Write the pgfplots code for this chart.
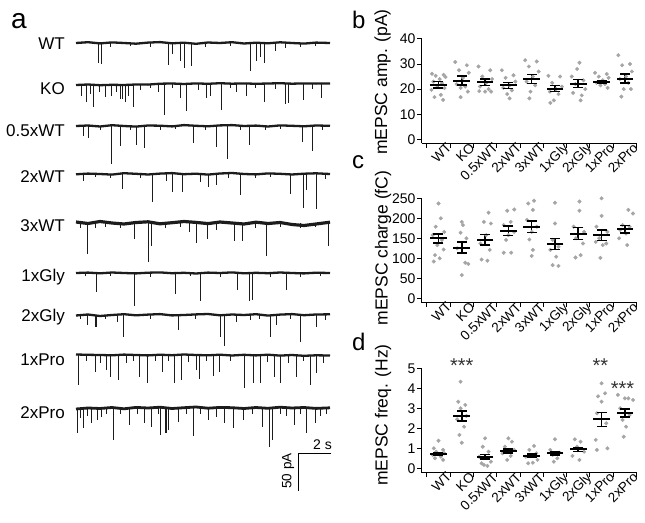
\documentclass[border=0pt]{standalone}
\usepackage{pgfplots}
\pgfplotsset{compat=1.18}
\usepackage{pgfplotstable}
\usepackage{fontspec}
\setmainfont{Liberation Sans}
\definecolor{dotgray}{RGB}{165,165,165}
\definecolor{tracecol}{RGB}{28,28,28}

% baseline wander of each trace (px, + is up)
\pgfplotstableread{
x   wt   ko   half twx  thx  glya glyb proa prob
76  0    -1   0    -0.3 1    0    -0.5 0.5  -1
88  0.8  -0.5 0.5  0.4  -0.5 0.4  0.5  0.2  0
100 -0.4 -1.2 -0.5 0    1.5  -0.3 -1   0    -0.5
112 0.6  -0.8 0.8  -0.6 0    0.5  0    -0.3 0.5
124 0    -1   0    0.8  -1   0    0.8  0.4  -0.8
136 -0.7 -0.5 -0.6 0.2  0.5  -0.4 -0.3 0    0.6
148 0.4  -0.6 0.5  -0.5 1.2  0.3  0.4  -0.4 0
160 0.9  0.3  0.3  0.4  -0.8 0.6  0.9  0.3  0.8
172 -0.3 0.5  -0.4 0.9  0.3  -0.2 -0.4 -0.2 -0.5
184 0.3  0    0.9  -0.2 1.5  0.2  0    0.5  0.3
196 -0.8 0.6  0.2  0.3  0.6  -0.5 0.6  0    1
208 0.5  0.2  -0.3 -0.6 -0.6 0.4  1    -0.3 -0.2
220 0    0.8  0.6  0.5  1    0    -0.3 0.3  0.6
232 0.8  0.3  0.9  1    0    0.6  0.5  -0.5 0.3
244 -0.5 0.6  0    0    -1   -0.3 0    0.2  -0.5
256 0.3  0.2  0.4  -0.4 0.8  0.2  0.8  -0.4 0.5
268 -0.3 0.5  -0.5 0.6  -0.5 -0.2 -0.6 0.3  -0.3
280 0.7  0.8  0.6  0.2  0.5  0.5  0.4  -0.6 0.8
292 0    0.3  0.2  -0.5 -1.5 0    0.9  0    0
304 -0.6 0.6  -0.3 0.3  -2.5 -0.4 -0.2 -0.8 0.5
316 0.4  0.4  0.5  0.7  -1   0.3  0.5  -0.3 -0.4
330 0    0.5  0.2  0    0.8  0    0.7  -0.5 0.2
}\wig

% spikes: x position (px), depth (px)
\pgfplotstableread{
x d
98.5 20
101.5 21
110 4
130 3
150 4
168.5 22
172 11
180 18
184 25
191.5 23
205 4
230 3
250 28
256.5 18
260.5 14
264 20
275 8
285 5
300 4
315 3
}\spWT
\pgfplotstableread{
x d
81.7 11.5
86 18
90 10
93.3 23
99.3 8
105 12.5
111.7 11.5
116.7 8
120 15
122.7 15
125 18
128.3 11.5
133.3 23
140 6
150 4
158.3 8
164.3 31
172 4
180 13.5
186 26.5
198.3 6
206.7 13.5
210 11.5
221 26
230 4
236.7 8
246 11.5
255 4
264 18
275 5
285 20
288.3 19
303.3 16
312 5
321.7 13.5
}\spKO
\pgfplotstableread{
x d
83 10
88.3 12
100 4
111.7 38
120 20
130 4
136 19
144 22
160 4
175 3
193.5 17
205 4
216 21
227.7 33
240 4
249.5 19
265 4
280 3
302 16
312.7 25
322 4
}\spHalf
\pgfplotstableread{
x d
83.3 7
95 3
110 4
122.7 15
140 4
152.7 28
166.7 7
172.7 18
182.7 18
200.7 8
208.3 13
216.7 11
228 4
240 21
255 4
270 3
290.7 20
303.3 34
306 16
316.7 35
325 5
}\spTwo
\pgfplotstableread{
x d
80 5
87.3 31
95 5
105 4
120 5
134.3 16
148.3 39
151.7 23
165 5
180 4
189.3 9
196 20
207.7 16
216.7 7
234 18
242.7 18
255 5
266.7 33
280 4
300 5
315 4
328.3 23
}\spThree
\pgfplotstableread{
x d
85 3
96.7 19
110 3
134 33
150 4
175 21
190 3
200.7 28
220 4
237.3 17
249 28
252.3 27
270 4
286 17
300 4
320 3
}\spGa
\pgfplotstableread{
x d
80 4
87.3 10
95 12
96.7 12
105 4
117.3 7
123.3 22
150 4
178.3 15
195 4
220.7 22
224 31
236.7 7
250 5
259 4
270 22
276.7 10
290 4
300.7 27
316 12
325 5
}\spGb
\pgfplotstableread{
x d
78.3 30
86 6
95 17
100 8
106 15
110 22
118.3 25
126.7 8
133 6
139.3 22
147.3 28
155 6
162.7 17
168 6
174 28
181 25
188 7
196.7 15
199 24
206 6
213.3 21
219.3 17
230 6
244 33
253.3 28
260.7 28
267 7
274.7 22
280 28
288 8
296.7 22
303 6
310.7 30
316 18
323 8
}\spPa
\pgfplotstableread{
x d
77.3 25
80 10
83.3 20
87 8
91.7 15
97.3 12
101.7 9
106 6
113.3 32
120 6
129.3 17
137 6
144 15
151 19
158 6
160 27
165 25
166.7 25
168.3 22
178.3 14
186 6
193.3 28
200 6
208.3 12
216.7 9
224 15
233.3 20
243.3 12
252 6
262.3 19
269.3 39
272.7 32
280 6
286 8
294 17
300 6
306.7 25
315 15
320 8
326 6
}\spPb

% panel b: category, jitter, value
\pgfplotstableread{
c j y
0 -0.28 26.1
0 0.22 25.7
0 -0.12 25.3
0 0.30 24.8
0 0.05 24.0
0 -0.22 23.0
0 0.15 22.4
0 -0.05 21.3
0 0.26 20.4
0 -0.30 19.7
0 0.10 17.7
0 -0.17 16.8
0 0.20 15.7
1 -0.28 30.8
1 0.22 29.5
1 -0.12 27.5
1 0.30 26.5
1 0.05 24.5
1 -0.22 22.0
1 0.15 21.0
1 -0.05 20.5
1 0.26 19.0
1 -0.05 16.8
2 -0.28 29.0
2 0.22 27.5
2 -0.12 25.0
2 0.30 24.0
2 0.05 22.5
2 -0.22 21.0
2 0.15 20.0
2 -0.25 19.2
2 0.26 19.0
2 0.00 19.0
3 -0.28 27.5
3 0.22 25.5
3 -0.12 24.5
3 0.30 23.0
3 0.05 21.5
3 -0.22 20.5
3 0.15 19.5
3 -0.05 18.0
3 0.05 16.3
4 -0.28 31.5
4 0.22 31.0
4 -0.12 29.0
4 0.30 27.0
4 0.05 25.0
4 -0.22 23.0
4 0.15 21.5
4 -0.05 19.0
4 -0.10 16.3
5 -0.28 25.3
5 0.22 25.0
5 -0.12 22.5
5 0.30 21.0
5 0.05 20.0
5 -0.22 19.0
5 0.15 18.0
5 -0.05 15.5
5 -0.20 14.5
6 -0.28 25.0
6 0.22 23.5
6 -0.12 22.0
6 0.30 20.0
6 0.05 30.5
6 -0.22 18.5
6 0.15 17.5
6 -0.05 28.0
6 0.10 15.5
7 -0.28 26.5
7 0.22 26.0
7 -0.12 25.0
7 0.30 24.5
7 0.05 23.5
7 -0.22 22.5
7 0.15 22.0
7 -0.05 21.5
7 0.26 20.5
8 -0.28 33.5
8 0.22 30.0
8 -0.12 29.5
8 0.30 27.0
8 0.05 25.0
8 -0.22 24.0
8 0.15 22.5
8 -0.05 20.0
8 0.26 20.0
8 -0.15 17.0
}\datB
\pgfplotstableread{
x y e
0 21.7 1.3
1 23.4 1.7
2 22.8 1.3
3 21.5 1.2
4 24.0 1.8
5 20.2 1.2
6 22.2 1.6
7 23.0 0.5
8 24.2 1.7
}\mB

\pgfplotstableread{
c j y
0 0.00 237
0 0.10 200
0 -0.12 179
0 0.25 166
0 -0.25 158
0 0.15 146
0 -0.05 133
0 0.22 122
0 -0.15 108
0 0.05 100
0 -0.20 92
1 0.00 191
1 0.05 183
1 -0.05 164
1 0.20 150
1 -0.20 125
1 0.15 89
1 0.28 86
1 0.00 58
2 0.15 214
2 -0.05 191
2 0.25 187
2 0.05 158
2 -0.20 137
2 0.20 121
2 -0.15 97
2 0.10 94
3 0.25 222
3 -0.05 219
3 0.10 191
3 -0.20 183
3 0.25 166
3 0.00 158
3 -0.10 146
3 -0.20 114
3 0.12 114
4 0.10 244
4 -0.15 237
4 0.05 221
4 -0.20 196
4 0.22 179
4 0.00 166
4 -0.10 147
4 0.05 121
4 0.00 106
5 0.00 239
5 0.00 187
5 -0.10 146
5 0.15 129
5 -0.20 121
5 0.05 104
5 -0.10 83
5 0.15 81
6 0.05 242
6 0.05 219
6 -0.20 179
6 0.25 166
6 -0.10 150
6 0.20 137
6 0.10 108
6 -0.12 102
7 0.00 250
7 0.00 206
7 -0.22 179
7 0.25 166
7 -0.10 150
7 -0.25 141
7 0.20 137
7 0.05 133
7 -0.05 101
8 0.15 221
8 0.35 212
8 -0.10 183
8 0.20 179
8 -0.20 171
8 0.05 162
8 -0.25 150
8 0.10 133
}\datC
\pgfplotstableread{
x y e
0 150 11
1 127 14
2 147 13
3 169 12
4 179 14
5 136 14
6 162 15
7 158 13
8 173 9
}\mC

\pgfplotstableread{
c j y
0 0.00 1.38
0 -0.20 1.00
0 0.20 0.92
0 -0.10 0.83
0 0.25 0.75
0 -0.25 0.67
0 0.10 0.58
0 -0.15 0.50
0 0.20 0.42
1 -0.05 4.33
1 -0.15 3.33
1 0.15 3.17
1 -0.05 3.00
1 0.20 2.62
1 -0.20 2.45
1 0.10 2.08
1 -0.10 1.67
1 0.00 1.28
2 0.00 1.50
2 -0.10 1.08
2 0.15 0.83
2 -0.25 0.58
2 0.25 0.33
2 -0.15 0.25
2 0.10 0.12
2 -0.05 0.17
3 0.00 1.50
3 0.15 1.33
3 -0.15 1.08
3 0.25 0.92
3 -0.25 0.75
3 0.10 0.62
3 -0.05 0.42
4 0.10 1.12
4 -0.10 0.92
4 0.20 0.75
4 -0.25 0.58
4 0.25 0.42
4 -0.15 0.25
4 0.05 0.28
5 0.00 1.45
5 -0.20 0.92
5 0.20 0.78
5 -0.10 0.67
5 0.10 0.50
5 -0.05 0.33
6 -0.15 1.45
6 0.10 1.33
6 -0.05 1.08
6 0.25 0.83
6 -0.25 0.62
6 0.05 0.42
7 0.00 4.25
7 0.15 3.75
7 -0.15 3.60
7 0.00 3.33
7 -0.20 2.75
7 0.20 2.25
7 -0.25 1.42
7 0.25 1.00
7 -0.20 0.92
8 -0.30 3.67
8 0.00 3.50
8 0.15 3.50
8 0.35 3.42
8 -0.20 3.00
8 0.20 2.67
8 -0.10 2.42
8 0.05 2.08
8 -0.05 1.58
}\datD
\pgfplotstableread{
x y e
0 0.72 0.07
1 2.62 0.25
2 0.58 0.12
3 0.87 0.10
4 0.63 0.08
5 0.75 0.08
6 0.95 0.10
7 2.45 0.35
8 2.78 0.20
}\mD

\pgfplotsset{
  dotp/.style={only marks, mark=*, mark size=1.8pt, color=dotgray, mark options={draw=none, fill=dotgray}},
  meanp/.style={only marks, black, mark=-, mark size=8.3pt, mark options={line width=2pt, black},
    error bars/.cd, y dir=both, y explicit, error bar style={line width=1.6pt, black},
    error mark=none},
  capp/.style={only marks, black, mark=-, mark size=5pt, mark options={line width=1.6pt, black}},
  panel/.style={scale only axis, width=215.3pt, height=104.4pt, xmin=-0.72, xmax=8.52,
    axis x line*=bottom, axis y line*=left, axis line style={line width=0.9pt, -},
    xtick={-0.5,0.5,1.5,2.5,3.5,4.5,5.5,6.5,7.5,8.5}, xticklabels={},
    tick align=outside, major tick length=4.5pt, tick style={line width=0.9pt, black},
    y tick label style={font=\fontsize{14}{14}\selectfont, inner sep=1.5pt},
    /pgf/number format/assume math mode=true, clip=false},
  spk/.style={quiver={u=0, v=-\thisrow{d}}, -, line width=0.75pt, color=tracecol, mark=none, forget plot},
  bline/.style={line width=2.3pt, color=tracecol, line join=round, mark=none, forget plot},
}
\tikzset{catlab/.style={rotate=45, anchor=north east, font=\fontsize{13.5}{13.5}\selectfont,
  inner sep=0pt, xshift=6pt, yshift=-4pt}}
\newcommand\catlabels[1]{%
  \node[catlab] at (axis cs:0,#1) {WT};
  \node[catlab] at (axis cs:1,#1) {KO};
  \node[catlab] at (axis cs:2,#1) {0.5xWT};
  \node[catlab] at (axis cs:3,#1) {2xWT};
  \node[catlab] at (axis cs:4,#1) {3xWT};
  \node[catlab] at (axis cs:5,#1) {1xGly};
  \node[catlab] at (axis cs:6,#1) {2xGly};
  \node[catlab] at (axis cs:7,#1) {1xPro};
  \node[catlab] at (axis cs:8,#1) {2xPro};
}
\newcommand\meanbars[1]{%
  \addplot[capp] table[x=x, y expr=\thisrow{y}+\thisrow{e}] {#1};
  \addplot[capp] table[x=x, y expr=\thisrow{y}-\thisrow{e}] {#1};
  \addplot[meanp] table[x=x, y=y, y error=e] {#1};
}

\begin{document}
\begin{tikzpicture}
\useasboundingbox (0pt,0pt) rectangle (645pt,-522pt);

% ---------- a: traces ----------
\begin{axis}[at={(0pt,-522pt)}, anchor=south west, scale only axis, width=645pt, height=522pt,
  xmin=0, xmax=645, ymin=-522, ymax=0, hide axis, clip=false, no markers]
\addplot[spk] table[x=x, y expr=-43,  y error=d] {\spWT};
\addplot[spk] table[x=x, y expr=-84] {\spKO};
\addplot[spk] table[x=x, y expr=-126] {\spHalf};
\addplot[spk] table[x=x, y expr=-174] {\spTwo};
\addplot[spk] table[x=x, y expr=-223] {\spThree};
\addplot[spk] table[x=x, y expr=-273] {\spGa};
\addplot[spk] table[x=x, y expr=-315] {\spGb};
\addplot[spk] table[x=x, y expr=-355] {\spPa};
\addplot[spk] table[x=x, y expr=-408] {\spPb};
\addplot[bline] table[x=x, y expr=\thisrow{wt}-43] {\wig};
\addplot[bline] table[x=x, y expr=\thisrow{ko}-84] {\wig};
\addplot[bline] table[x=x, y expr=\thisrow{half}-126] {\wig};
\addplot[bline] table[x=x, y expr=\thisrow{twx}-174] {\wig};
\addplot[bline, line width=3.2pt] table[x=x, y expr=\thisrow{thx}-223] {\wig};
\addplot[bline] table[x=x, y expr=\thisrow{glya}-273] {\wig};
\addplot[bline] table[x=x, y expr=\thisrow{glyb}-315] {\wig};
\addplot[bline] table[x=x, y expr=\thisrow{proa}-355] {\wig};
\addplot[bline, line width=2.8pt] table[x=x, y expr=\thisrow{prob}-408] {\wig};
% scale bar: 2 s, 50 pA
\addplot[line width=1pt, black, mark=none] coordinates {(331,-453) (298,-453) (298,-491)};
\end{axis}

\begin{scope}[font=\fontsize{17}{17}\selectfont]
\node[anchor=base east, inner sep=0pt] at (65pt,-49pt) {WT};
\node[anchor=base east, inner sep=0pt] at (65pt,-94pt) {KO};
\node[anchor=base east, inner sep=0pt] at (65pt,-136pt) {0.5xWT};
\node[anchor=base east, inner sep=0pt] at (65pt,-182.5pt) {2xWT};
\node[anchor=base east, inner sep=0pt] at (65pt,-231.5pt) {3xWT};
\node[anchor=base east, inner sep=0pt] at (65pt,-281.5pt) {1xGly};
\node[anchor=base east, inner sep=0pt] at (65pt,-321.5pt) {2xGly};
\node[anchor=base east, inner sep=0pt] at (65pt,-365pt) {1xPro};
\node[anchor=base east, inner sep=0pt] at (65pt,-418pt) {2xPro};
\end{scope}
\node[anchor=base west, inner sep=0pt, font=\fontsize{14}{14}\selectfont] at (313pt,-449pt) {2 s};
\node[rotate=90, inner sep=0pt, font=\fontsize{13.5}{13.5}\selectfont] at (288pt,-471pt) {50 pA};

% panel letters
\node[anchor=base west, inner sep=0pt, font=\fontsize{28}{28}\selectfont] at (11pt,-28pt) {a};
\node[anchor=base west, inner sep=0pt, font=\fontsize{24}{24}\selectfont] at (352pt,-28pt) {b};
\node[anchor=base west, inner sep=0pt, font=\fontsize{24}{24}\selectfont] at (352pt,-168pt) {c};
\node[anchor=base west, inner sep=0pt, font=\fontsize{24}{24}\selectfont] at (352pt,-350pt) {d};

% y labels
\node[rotate=90, font=\fontsize{17.5}{17.5}\selectfont] at (382.5pt,-82pt) {mEPSC amp. (pA)};
\node[rotate=90, font=\fontsize{17.5}{17.5}\selectfont] at (383pt,-248pt) {mEPSC charge (fC)};
\node[rotate=90, font=\fontsize{17.5}{17.5}\selectfont] at (383pt,-415pt) {mEPSC freq. (Hz)};

% ---------- b ----------
\begin{axis}[panel, at={(421.7pt,-143.3pt)}, anchor=south west, ymin=-1.6, ymax=40, ytick={0,10,20,30,40}]
\addplot[dotp] table[x expr=\thisrow{c}+\thisrow{j}, y=y] {\datB};
\meanbars{\mB}
\catlabels{-1.6}
\end{axis}

% ---------- c ----------
\begin{axis}[panel, at={(421.7pt,-302.7pt)}, anchor=south west, ymin=-11, ymax=250, ytick={0,50,100,150,200,250}]
\addplot[dotp] table[x expr=\thisrow{c}+\thisrow{j}, y=y] {\datC};
\meanbars{\mC}
\catlabels{-11}
\end{axis}

% ---------- d ----------
\begin{axis}[panel, at={(421.7pt,-472.7pt)}, anchor=south west, ymin=-0.22, ymax=5, ytick={0,1,2,3,4,5}]
\addplot[dotp] table[x expr=\thisrow{c}+\thisrow{j}, y=y] {\datD};
\meanbars{\mD}
\catlabels{-0.22}
\node[font=\fontsize{20}{20}\selectfont, text=black!80] at (axis cs:1,5.15) {***};
\node[font=\fontsize{20}{20}\selectfont, text=black!80] at (axis cs:6.95,5.15) {**};
\node[font=\fontsize{20}{20}\selectfont, text=black!80] at (axis cs:7.9,4.0) {***};
\end{axis}
\end{tikzpicture}
\end{document}
